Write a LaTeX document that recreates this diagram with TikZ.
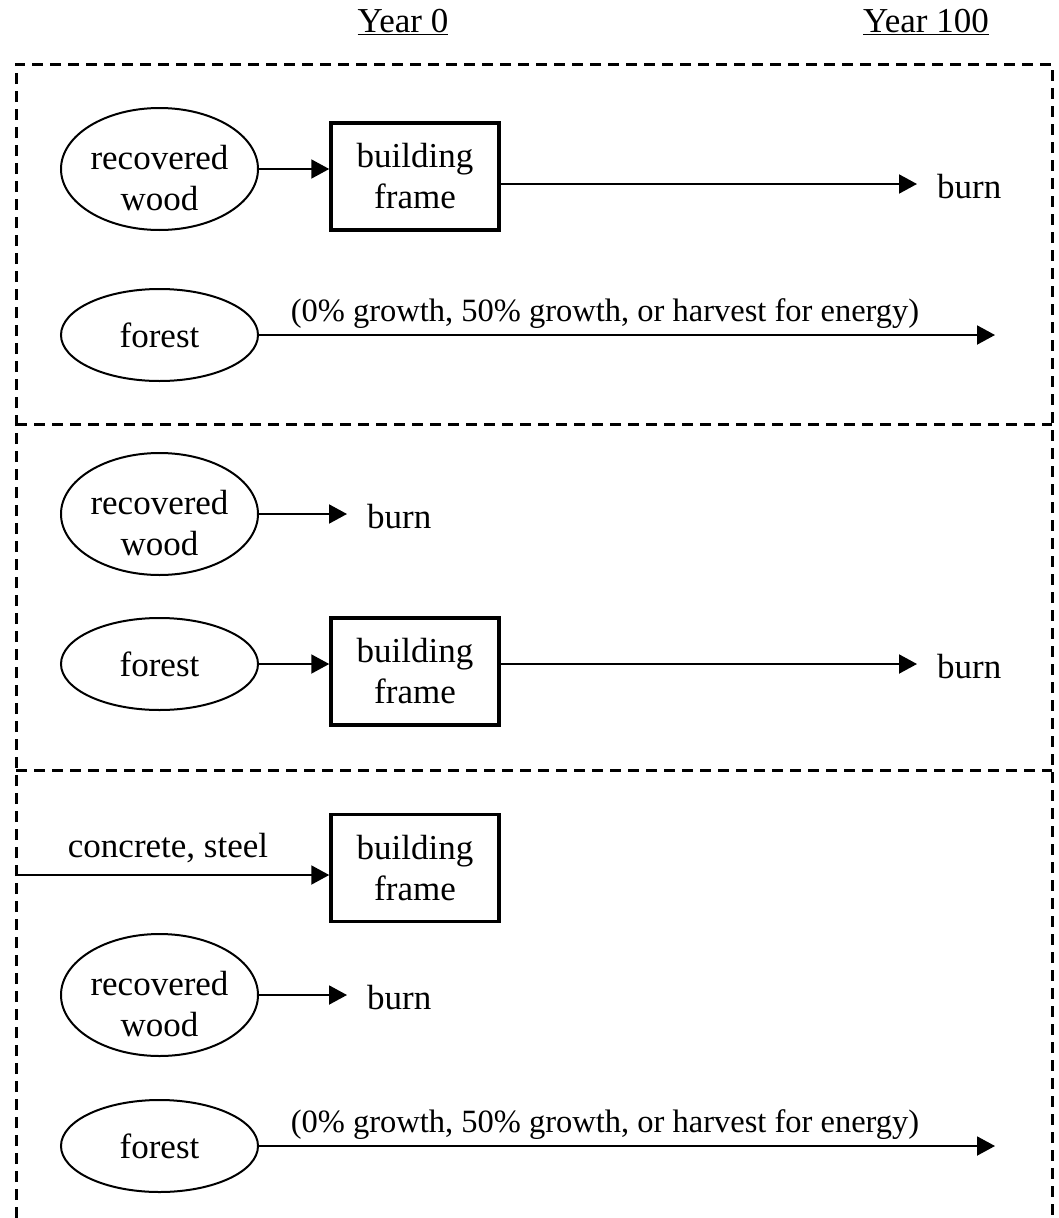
\documentclass[tikz,border=0pt]{standalone}
\usepackage{fontspec}
\setmainfont{Liberation Serif}
\usetikzlibrary{shapes.geometric,arrows.meta}
\begin{document}
\begin{tikzpicture}[x=1pt,y=-1pt,
  every node/.style={font=\fontsize{35}{41}\selectfont},
  oval/.style={ellipse,draw,line width=2pt,minimum width=197pt,inner sep=0pt,align=center},
  woodoval/.style={oval,minimum height=122pt,text height=83pt},
  forestoval/.style={oval,minimum height=92pt},
  framebox/.style={rectangle,draw,line width=3.5pt,minimum width=168pt,minimum height=107pt,inner sep=0pt,align=center},
  flow/.style={line width=2pt,-{Triangle[length=18pt,width=19pt]}},
  border/.style={line width=3pt,dash pattern=on 11pt off 7pt},
  endlabel/.style={inner xsep=20pt,inner ysep=0pt,text height=29pt,anchor=west},
  options/.style={anchor=base,font=\fontsize{32.5}{38}\selectfont}]
\useasboundingbox (0,0) rectangle (1058,1218);

% column headings
\node[anchor=base] (y0) at (403,32) {\underline{Year 0}};
\node[anchor=base] (y100) at (926,32) {\underline{Year 100}};

% dashed frame and section dividers
\coordinate (tl) at (16,64);
\coordinate (tr) at (1052,64);
\coordinate (bl) at (16,1218);
\coordinate (br) at (1052,1218);
\draw[border] (bl) -- (tl) -- (tr) -- (br);
\draw[border] (16,424) -- (1052,424);
\draw[border] (16,770) -- (1052,770);

% section 1: recovered wood framing, forest left standing
\node[woodoval] (rw1) at (159.5,169) {recovered\\wood};
\node[framebox] (bf1) at (415,176.5) {building\\frame};
\draw[flow] (rw1.east) -- (rw1.east -| bf1.west);
\node[endlabel] (burn1) at (917,184) {burn};
\draw[flow] (bf1.east |- burn1.west) -- (burn1.west);
\node[forestoval] (fo1) at (159.5,335) {forest};
\coordinate (end1) at (995,335);
\draw[flow] (fo1.east) -- (end1);
\node[options] (opt1) at (605,321) {(0\% growth, 50\% growth, or harvest for energy)};

% section 2: recovered wood burned, forest harvested for framing
\node[woodoval] (rw2) at (159.5,514) {recovered\\wood};
\node[endlabel] (burn2) at (347,514) {burn};
\draw[flow] (rw2.east) -- (burn2.west);
\node[forestoval] (fo2) at (159.5,664) {forest};
\node[framebox] (bf2) at (415,671.5) {building\\frame};
\draw[flow] (fo2.east) -- (fo2.east -| bf2.west);
\node[endlabel] (burn3) at (917,664) {burn};
\draw[flow] (bf2.east |- burn3.west) -- (burn3.west);

% section 3: concrete and steel framing
\coordinate (src) at (16,875);
\node[framebox] (bf3) at (415,868) {building\\frame};
\draw[flow] (src) -- (src -| bf3.west);
\node[anchor=base] (cs) at (168,857) {concrete, steel};
\node[woodoval] (rw3) at (159.5,995) {recovered\\wood};
\node[endlabel] (burn4) at (347,995) {burn};
\draw[flow] (rw3.east) -- (burn4.west);
\node[forestoval] (fo3) at (159.5,1146) {forest};
\coordinate (end2) at (995,1146);
\draw[flow] (fo3.east) -- (end2);
\node[options] (opt2) at (605,1132) {(0\% growth, 50\% growth, or harvest for energy)};
\end{tikzpicture}
\end{document}
